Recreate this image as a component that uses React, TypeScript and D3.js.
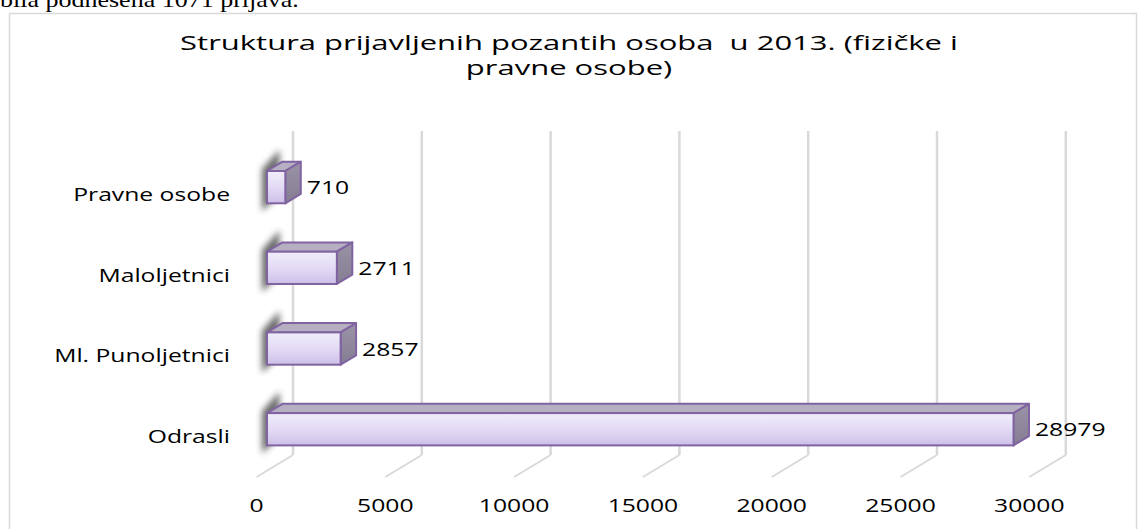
import React from 'react';
import * as d3 from 'd3';

const categories = ['Pravne osobe', 'Maloljetnici', 'Ml. Punoljetnici', 'Odrasli'];
const values = [710, 2711, 2857, 28979];
const tickValues = [0, 5000, 10000, 15000, 20000, 25000, 30000];
const titleLines = ['Struktura prijavljenih pozantih osoba  u 2013. (fizičke i', 'pravne osobe)'];
const topText = 'bila podnesena 1071 prijava.';

const W = 1148;
const H = 529;
const SX = 1.3; // horizontal text stretch seen in the reference
const TSX = 1.55;
const FONT = '"Open Sans", sans-serif';

export default function App() {
  const frontX0 = 256.5;
  const depth = { dx: 36.5, dy: -22 };
  const floorFrontY = 477;
  const floorBackY = floorFrontY + depth.dy;
  const wallTopY = 131;
  const f1 = 0.288;
  const f2 = 0.712;
  const bdx = depth.dx * (f2 - f1);
  const bdy = depth.dy * (f2 - f1);

  const x = d3.scaleLinear().domain([0, 30000]).range([0, 772.8]);
  const y = d3.scaleBand<string>().domain(categories).range([146.8, 469.6]).paddingInner(0.6).paddingOuter(0.3);

  const barX0 = frontX0 + depth.dx * f1;
  const labelShift = -depth.dy * f1;

  const st = (X: number, Y: number, s = SX) => `translate(${X},${Y}) scale(${s},1)`;

  return (
    <svg width={W} height={H} style={{ position: 'absolute', left: 0, top: 0, display: 'block', background: '#fff' }}>
      <defs>
        <linearGradient id="frontG" x1="0" y1="0" x2="0" y2="1">
          <stop offset="0" stopColor="#f1edfb" />
          <stop offset="0.5" stopColor="#e3dbf5" />
          <stop offset="1" stopColor="#cdbfe8" />
        </linearGradient>
        <linearGradient id="sideG" x1="0" y1="0" x2="0" y2="1">
          <stop offset="0" stopColor="#9a92a6" />
          <stop offset="1" stopColor="#857d91" />
        </linearGradient>
        <filter id="blur" x="-50%" y="-50%" width="200%" height="200%">
          <feGaussianBlur stdDeviation="3" />
        </filter>
      </defs>

      <text transform={st(0, 7)} fontFamily='"Liberation Serif", "Times New Roman", serif' fontSize={20} fill="#000">
        {topText}
      </text>

      <rect x={9.5} y={13.5} width={1127} height={H} fill="#fff" stroke="#d9d9d9" strokeWidth={1.5} />

      {titleLines.map((t, i) => (
        <text
          key={i}
          transform={st(569, 50 + i * 25, TSX)}
          textAnchor="middle"
          fontFamily={FONT}
          fontSize={20}
          fill="#000"
          style={{ whiteSpace: 'pre' }}
        >
          {t}
        </text>
      ))}

      {tickValues.map((t) => {
        const bx = frontX0 + depth.dx + x(t);
        return (
          <g key={t}>
            <line x1={bx} x2={bx} y1={wallTopY} y2={floorBackY} stroke="#d9d9d9" strokeWidth={2.5} />
            <line x1={bx} y1={floorBackY} x2={bx - depth.dx} y2={floorFrontY} stroke="#d9d9d9" strokeWidth={2} />
            <text transform={st(frontX0 + x(t), 512)} textAnchor="middle" fontFamily={FONT} fontSize={19} fill="#000">
              {t}
            </text>
          </g>
        );
      })}

      {categories.map((c, i) => {
        const yt = y(c)!;
        const yb = yt + y.bandwidth();
        const xa = barX0;
        const xb = barX0 + x(values[i]);
        const shadow = `M${xa - 5},${yt - 2} L${xa + bdx - 3},${yt + bdy - 12} L${xa + bdx - 3},${yb + bdy} L${xa - 5},${yb + 8} Z`;
        const top = `M${xa},${yt} L${xa + bdx},${yt + bdy} L${xb + bdx},${yt + bdy} L${xb},${yt} Z`;
        const side = `M${xb},${yt} L${xb + bdx},${yt + bdy} L${xb + bdx},${yb + bdy} L${xb},${yb} Z`;
        const cy = yt + y.bandwidth() / 2;
        return (
          <g key={c}>
            <path d={shadow} fill="#3a3a3a" opacity={0.75} filter="url(#blur)" />
            <path d={top} fill="#b6afc1" stroke="#8064a2" strokeWidth={2} strokeLinejoin="round" />
            <path d={side} fill="url(#sideG)" stroke="#8064a2" strokeWidth={2} strokeLinejoin="round" />
            <rect x={xa} y={yt} width={xb - xa} height={yb - yt} fill="url(#frontG)" stroke="#8064a2" strokeWidth={2} />
            <text transform={st(xb + bdx + 6, cy + 7)} fontFamily={FONT} fontSize={19} fill="#000">
              {values[i]}
            </text>
            <text transform={st(230, cy + labelShift + 7.5)} textAnchor="end" fontFamily={FONT} fontSize={19} fill="#000">
              {c}
            </text>
          </g>
        );
      })}
    </svg>
  );
}
